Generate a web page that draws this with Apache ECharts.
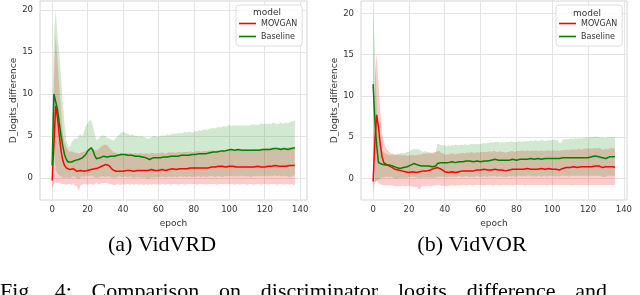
<!DOCTYPE html>
<html>
<head>
<meta charset="utf-8">
<script src="https://cdn.jsdelivr.net/npm/echarts@6/dist/echarts.min.js"></script>
<style>
html,body{margin:0;padding:0;background:#fff;}
#c{width:640px;height:295px;}
</style>
</head>
<body>
<div id="c"></div>
<script>
// ---------- labels ----------
const xTicks = [0, 20, 40, 60, 80, 100, 120, 140];
const yTicks = [0, 5, 10, 15, 20];
const seriesNames = ['MOVGAN', 'Baseline'];
const panelCaptions = ['(a) VidVRD', '(b) VidVOR'];
const figCaptionWords = ['Fig.', '4:', 'Comparison', 'on', 'discriminator', 'logits', 'difference', 'and'];

// ---------- data (VidVRD, epochs 0..137) ----------
const vrdMovMean = [-0.3,4.0,8.6,7.2,5.2,3.3,2.1,1.5,1.2,1.1,
 1.0,1.1,1.1,0.9,0.8,0.8,0.9,0.8,0.8,0.9,
 0.9,0.9,1.0,1.0,1.1,1.2,1.2,1.3,1.4,1.5,
 1.6,1.6,1.5,1.3,1.0,0.9,0.8,0.8,0.8,0.8,
 0.8,0.8,0.9,0.8,0.9,0.9,0.8,0.9,0.9,0.9,
 0.9,0.9,0.9,1.0,0.9,0.9,1.0,1.0,0.9,1.0,
 0.9,1.0,1.0,1.0,0.9,1.0,1.0,1.0,1.1,1.0,
 1.0,1.1,1.1,1.0,1.1,1.1,1.1,1.1,1.2,1.1,
 1.2,1.2,1.2,1.3,1.2,1.2,1.2,1.3,1.2,1.3,
 1.3,1.3,1.3,1.3,1.4,1.3,1.4,1.4,1.3,1.4,
 1.4,1.5,1.4,1.4,1.3,1.4,1.3,1.3,1.3,1.3,
 1.3,1.3,1.3,1.3,1.3,1.3,1.4,1.3,1.3,1.3,
 1.3,1.3,1.4,1.3,1.4,1.4,1.5,1.4,1.4,1.4,
 1.4,1.3,1.4,1.5,1.5,1.5,1.5,1.5];
const vrdMovHi = [1.0,12.0,17.0,14.0,11.0,8.0,5.3,4.2,3.7,3.3,
 3.1,3.2,3.1,3.0,3.0,2.9,3.0,3.1,3.1,3.2,
 3.3,3.3,3.4,3.4,3.3,3.3,3.4,3.6,3.8,3.9,
 4.0,3.9,3.7,3.4,3.2,3.1,3.0,2.9,2.9,3.0,
 2.9,2.9,3.0,2.9,3.0,2.9,2.9,3.0,2.9,2.9,
 3.0,2.9,2.9,3.0,2.9,2.9,3.0,3.0,2.9,3.0,
 2.9,3.0,3.0,3.0,2.9,3.0,3.1,3.0,3.1,3.0,
 3.0,3.1,3.1,3.0,3.1,3.1,3.1,3.1,3.2,3.1,
 3.1,3.2,3.2,3.2,3.1,3.2,3.2,3.2,3.2,3.3,
 3.2,3.3,3.2,3.3,3.3,3.2,3.3,3.3,3.3,3.3,
 3.3,3.4,3.3,3.3,3.3,3.4,3.3,3.3,3.4,3.4,
 3.4,3.4,3.4,3.4,3.5,3.4,3.5,3.4,3.5,3.5,
 3.5,3.5,3.5,3.5,3.6,3.5,3.6,3.5,3.6,3.6,
 3.6,3.5,3.6,3.6,3.7,3.6,3.7,3.7];
const vrdMovLo = [-1.2,-0.8,-0.5,-0.6,-0.6,-0.7,-0.7,-0.7,-0.8,-0.7,
 -0.7,-0.8,-0.7,-0.9,-1.0,-1.5,-0.9,-0.8,-0.7,-0.7,
 -0.8,-0.7,-0.7,-0.8,-0.7,-0.6,-0.7,-0.7,-0.6,-0.6,
 -0.6,-0.6,-0.7,-0.7,-0.8,-0.8,-0.8,-0.7,-0.8,-0.8,
 -0.7,-0.8,-0.7,-0.7,-0.8,-0.7,-0.8,-0.7,-0.7,-0.8,
 -0.7,-0.8,-0.8,-0.7,-0.8,-0.7,-0.8,-0.7,-0.7,-0.8,
 -0.7,-0.8,-0.7,-0.7,-0.8,-0.7,-0.7,-0.8,-0.7,-0.7,
 -0.7,-0.8,-0.7,-0.7,-0.7,-0.8,-0.7,-0.7,-0.7,-0.7,
 -0.7,-0.7,-0.8,-0.7,-0.7,-0.7,-0.7,-0.8,-0.7,-0.7,
 -0.7,-0.7,-0.7,-0.8,-0.7,-0.7,-0.7,-0.7,-0.7,-0.7,
 -0.7,-0.7,-0.7,-0.8,-0.7,-0.7,-0.8,-0.7,-0.7,-0.7,
 -0.8,-0.7,-0.7,-0.7,-0.8,-0.7,-0.7,-0.7,-0.8,-0.7,
 -0.7,-0.7,-0.8,-0.7,-0.7,-0.7,-0.7,-0.8,-0.7,-0.7,
 -0.7,-0.8,-0.7,-0.7,-0.8,-0.7,-0.8,-0.8];
const vrdBaseMean = [1.5,10.0,10.0,8.2,6.6,5.1,3.8,2.8,2.2,1.9,
 1.8,1.9,2.1,2.1,2.2,2.2,2.3,2.4,2.6,2.8,
 3.2,3.3,3.6,3.3,2.7,2.3,2.3,2.4,2.5,2.6,
 2.6,2.5,2.5,2.6,2.7,2.6,2.7,2.7,2.8,2.8,
 2.8,2.8,2.8,2.7,2.7,2.7,2.6,2.6,2.6,2.6,
 2.6,2.5,2.5,2.4,2.2,2.2,2.3,2.4,2.4,2.4,
 2.4,2.4,2.5,2.5,2.4,2.5,2.5,2.6,2.6,2.6,
 2.6,2.6,2.7,2.7,2.6,2.7,2.7,2.7,2.8,2.8,
 2.8,2.8,2.8,2.9,2.9,2.9,3.0,2.9,3.0,3.0,
 3.1,3.1,3.0,3.1,3.1,3.2,3.1,3.2,3.2,3.3,
 3.3,3.4,3.3,3.3,3.3,3.4,3.3,3.3,3.4,3.3,
 3.3,3.3,3.2,3.3,3.3,3.3,3.4,3.3,3.4,3.4,
 3.4,3.4,3.5,3.4,3.5,3.5,3.6,3.5,3.5,3.4,
 3.5,3.5,3.5,3.4,3.3,3.5,3.6,3.6];
const vrdBaseHi = [4.5,17.0,20.0,17.0,15.0,12.0,9.0,6.5,4.5,3.8,
 3.7,4.2,4.5,4.8,4.6,5.0,5.2,4.9,5.6,6.2,
 6.5,6.8,6.9,6.2,5.2,4.5,4.6,4.9,5.0,5.1,
 5.0,4.8,4.7,4.6,4.5,4.5,4.8,5.0,5.2,5.4,
 5.5,5.4,5.3,5.2,5.1,5.2,5.1,5.0,5.0,4.9,
 5.0,4.9,4.9,4.8,4.6,4.7,4.9,5.0,5.0,4.9,
 4.9,5.0,5.1,5.0,5.1,5.2,5.1,5.2,5.3,5.2,
 5.3,5.3,5.4,5.3,5.4,5.5,5.4,5.5,5.5,5.4,
 5.5,5.6,5.5,5.7,5.6,5.7,5.8,5.7,5.8,5.9,
 5.9,6.0,5.9,6.0,6.1,6.0,6.1,6.2,6.1,6.2,
 6.3,6.2,6.3,6.2,6.3,6.2,6.3,6.2,6.3,6.2,
 6.3,6.2,6.3,6.4,6.3,6.4,6.3,6.4,6.5,6.4,
 6.5,6.4,6.5,6.4,6.5,6.6,6.5,6.4,6.5,6.6,
 6.5,6.5,6.6,6.5,6.6,6.7,6.8,6.8];
const vrdBaseLo = [-0.5,3.0,1.0,0.5,0.3,0.2,0.0,0.0,0.1,0.0,
 0.0,0.1,0.2,0.1,0.0,-0.2,0.1,0.2,0.1,0.2,
 0.3,0.2,0.3,0.2,0.1,0.0,0.1,0.1,0.2,0.2,
 0.1,0.2,0.2,0.1,0.1,0.0,0.1,0.1,0.2,0.1,
 0.1,0.2,0.1,0.1,0.2,0.1,0.0,0.1,0.1,0.1,
 0.1,0.0,0.1,0.0,-0.1,0.0,0.1,0.1,0.1,0.1,
 0.1,0.1,0.2,0.1,0.1,0.1,0.2,0.1,0.1,0.2,
 0.1,0.1,0.2,0.2,0.1,0.2,0.1,0.2,0.2,0.1,
 0.2,0.1,0.2,0.2,0.1,0.2,0.2,0.1,0.2,0.2,
 0.2,0.2,0.1,0.2,0.2,0.2,0.1,0.2,0.2,0.2,
 0.3,0.2,0.2,0.3,0.2,0.2,0.2,0.3,0.2,0.2,
 0.2,0.2,0.1,0.2,0.2,0.2,0.3,0.2,0.2,0.2,
 0.3,0.2,0.2,0.3,0.2,0.3,0.3,0.2,0.3,0.2,
 0.2,0.3,0.2,0.2,0.1,0.2,0.3,0.3];

// ---------- data (VidVOR, epochs 0..135) ----------
const vorMovMean = [-0.4,4.5,7.7,6.2,4.2,2.6,1.9,1.7,1.6,1.5,
 1.4,1.2,1.1,1.1,1.0,0.9,0.9,0.8,0.8,0.7,
 0.7,0.7,0.8,0.7,0.7,0.8,0.8,0.8,0.9,0.9,
 0.9,0.9,1.0,1.1,1.2,1.2,1.3,1.3,1.1,0.9,
 0.8,0.7,0.7,0.8,0.8,0.8,0.7,0.8,0.8,0.8,
 0.9,0.8,0.9,0.9,0.9,1.0,0.9,0.9,1.0,0.9,
 1.0,1.0,1.1,1.0,1.0,1.1,1.0,1.1,1.1,1.0,
 1.0,1.1,1.0,1.0,0.9,1.0,1.0,1.1,1.1,1.0,
 1.1,1.1,1.1,1.2,1.1,1.1,1.2,1.1,1.1,1.2,
 1.1,1.2,1.1,1.1,1.2,1.1,1.1,1.2,1.2,1.1,
 1.1,1.2,1.1,1.1,1.0,1.1,1.2,1.2,1.3,1.2,
 1.3,1.3,1.4,1.3,1.3,1.4,1.4,1.3,1.4,1.4,
 1.4,1.5,1.4,1.4,1.5,1.4,1.5,1.4,1.3,1.3,
 1.4,1.3,1.4,1.5,1.4,1.3];
const vorMovHi = [0.5,12.0,15.2,11.5,8.3,5.5,4.5,3.8,3.4,3.2,
 3.0,3.0,2.9,2.9,2.8,2.9,2.8,2.8,2.8,2.7,
 2.8,2.8,2.9,2.8,2.8,2.9,2.9,2.9,3.0,3.0,
 3.0,3.0,3.1,3.1,3.2,3.2,3.3,3.3,3.1,3.0,
 2.9,2.9,2.9,3.0,3.0,3.0,2.9,3.0,3.0,3.0,
 3.1,3.0,3.1,3.1,3.1,3.2,3.1,3.1,3.2,3.1,
 3.2,3.2,3.2,3.2,3.2,3.3,3.2,3.3,3.3,3.2,
 3.2,3.3,3.2,3.2,3.1,3.2,3.2,3.3,3.3,3.2,
 3.3,3.3,3.3,3.4,3.3,3.3,3.4,3.3,3.3,3.4,
 3.3,3.4,3.3,3.3,3.4,3.3,3.3,3.4,3.4,3.3,
 3.4,3.4,3.3,3.4,3.3,3.4,3.4,3.4,3.5,3.4,
 3.5,3.5,3.5,3.5,3.5,3.6,3.5,3.5,3.6,3.6,
 3.6,3.6,3.6,3.6,3.7,3.6,3.7,3.6,3.5,3.5,
 3.6,3.5,3.6,3.7,3.6,3.6];
const vorMovLo = [-1.5,-0.5,-0.3,-0.6,-0.7,-0.8,-0.8,-0.9,-0.8,-0.9,
 -0.8,-0.9,-0.9,-1.0,-0.9,-1.0,-0.9,-0.9,-1.0,-0.9,
 -0.9,-1.0,-1.0,-1.1,-1.0,-1.2,-1.4,-1.0,-0.9,-1.0,
 -0.9,-0.9,-1.0,-0.9,-0.9,-0.8,-0.8,-0.8,-0.9,-0.9,
 -0.9,-1.0,-0.9,-0.9,-0.8,-0.9,-0.9,-0.8,-0.9,-0.8,
 -0.8,-0.8,-0.9,-0.8,-0.8,-0.8,-0.9,-0.8,-0.8,-0.8,
 -0.8,-0.8,-0.9,-0.8,-0.8,-0.8,-0.8,-0.9,-0.8,-0.8,
 -0.8,-0.9,-0.8,-0.8,-0.8,-0.8,-0.8,-0.8,-0.9,-0.8,
 -0.8,-0.8,-0.8,-0.8,-0.8,-0.9,-0.8,-0.8,-0.8,-0.8,
 -0.8,-0.8,-0.8,-0.8,-0.8,-0.8,-0.8,-0.9,-0.8,-0.8,
 -0.8,-0.8,-0.8,-0.8,-0.8,-0.8,-0.8,-0.8,-0.8,-0.8,
 -0.8,-0.9,-0.8,-0.8,-0.8,-0.8,-0.8,-0.8,-0.8,-0.8,
 -0.8,-0.8,-0.8,-0.8,-0.8,-0.8,-0.8,-0.8,-0.8,-0.8,
 -0.8,-0.8,-0.8,-0.8,-0.8,-0.8];
const vorBaseMean = [11.4,7.0,4.0,1.9,1.7,1.7,1.7,1.6,1.6,1.6,
 1.5,1.5,1.3,1.3,1.2,1.2,1.2,1.3,1.3,1.4,
 1.5,1.6,1.7,1.8,1.7,1.6,1.5,1.5,1.5,1.5,
 1.5,1.5,1.5,1.4,1.4,1.5,1.8,1.8,1.9,1.9,
 1.9,1.9,1.9,1.9,2.0,2.0,1.9,2.0,2.0,2.0,
 2.0,2.0,2.1,2.0,2.1,2.1,2.0,2.0,2.1,2.1,
 2.0,2.1,2.1,2.2,2.1,2.2,2.2,2.2,2.3,2.2,
 2.2,2.2,2.2,2.1,2.2,2.2,2.2,2.2,2.3,2.2,
 2.2,2.3,2.3,2.2,2.3,2.3,2.3,2.3,2.4,2.3,
 2.3,2.3,2.4,2.4,2.3,2.4,2.4,2.3,2.4,2.4,
 2.4,2.5,2.4,2.4,2.4,2.4,2.5,2.4,2.5,2.5,
 2.5,2.4,2.5,2.5,2.5,2.5,2.5,2.6,2.5,2.6,
 2.5,2.6,2.6,2.6,2.7,2.7,2.6,2.6,2.5,2.4,
 2.4,2.5,2.6,2.7,2.6,2.6];
const vorBaseHi = [20.4,15.5,9.5,5.5,4.0,3.4,3.2,3.0,2.9,2.8,
 2.8,2.9,2.8,2.9,3.0,3.0,3.1,3.0,3.1,3.2,
 3.2,3.4,3.5,3.6,3.5,3.6,3.4,3.3,3.2,3.3,
 3.2,3.2,3.1,3.0,3.0,3.2,4.2,4.1,4.0,4.0,
 4.0,3.9,4.0,3.9,4.0,4.0,4.1,4.0,4.0,4.1,
 4.0,4.1,4.1,4.0,4.1,4.2,4.1,4.2,4.1,4.2,
 4.2,4.2,4.3,4.2,4.3,4.3,4.4,4.3,4.4,4.4,
 4.4,4.3,4.4,4.3,4.4,4.4,4.4,4.5,4.4,4.4,
 4.4,4.5,4.5,4.4,4.5,4.5,4.5,4.5,4.6,4.5,
 4.6,4.6,4.5,4.6,4.6,4.6,4.5,4.6,4.6,4.6,
 4.6,4.7,4.6,4.6,4.3,4.3,4.7,4.7,4.8,4.7,
 4.8,4.8,4.8,4.9,4.8,4.9,4.8,4.9,4.9,5.0,
 4.9,5.0,5.0,5.0,5.1,5.0,5.0,4.9,5.0,4.9,
 4.9,5.0,4.9,5.0,5.0,5.0];
const vorBaseLo = [3.0,-0.5,-0.3,-0.2,0.0,0.1,0.1,0.2,0.2,0.1,
 0.2,0.1,0.0,-0.1,0.0,0.1,0.0,0.1,0.0,0.1,
 0.1,0.2,0.2,0.2,0.1,0.1,0.0,0.1,0.1,0.1,
 0.1,0.1,0.1,0.0,0.1,0.1,0.2,0.2,0.2,0.2,
 0.2,0.1,0.2,0.2,0.2,0.2,0.2,0.2,0.3,0.2,
 0.2,0.2,0.3,0.2,0.2,0.2,0.2,0.2,0.3,0.2,
 0.2,0.2,0.3,0.2,0.2,0.3,0.2,0.3,0.3,0.2,
 0.2,0.3,0.2,0.2,0.2,0.2,0.3,0.2,0.3,0.2,
 0.2,0.3,0.3,0.2,0.3,0.2,0.3,0.3,0.3,0.2,
 0.3,0.2,0.3,0.3,0.2,0.3,0.3,0.2,0.3,0.3,
 0.3,0.3,0.2,0.3,0.2,0.3,0.3,0.3,0.3,0.2,
 0.3,0.3,0.3,0.3,0.3,0.3,0.3,0.3,0.3,0.3,
 0.3,0.3,0.3,0.3,0.3,0.3,0.3,0.3,0.2,0.2,
 0.2,0.3,0.3,0.3,0.3,0.3];

// ---------- chart ----------
const RED = '#ff0000', GREEN = '#008000';
const FONT = 'DejaVu Sans';
const chart = echarts.init(document.getElementById('c'), null, {renderer: 'canvas'});

function pts(vals) { return vals.map((v, i) => [i, v]); }
function band(lo, hi, fill, idx) {
  return {type: 'custom', xAxisIndex: idx, yAxisIndex: idx, data: [[0, 0]], silent: true, z: 1,
    renderItem: function (params, api) {
      const top = hi.map((v, i) => api.coord([i, v]));
      const bot = lo.map((v, i) => api.coord([i, v])).reverse();
      return {type: 'polygon', shape: {points: top.concat(bot)}, style: {fill: fill}};
    }};
}
function meanLine(name, vals, color, idx) {
  return {type: 'line', name: name, xAxisIndex: idx, yAxisIndex: idx, data: pts(vals),
    symbol: 'none', lineStyle: {color: color, width: 1.5}, itemStyle: {color: color}, z: 5};
}
function xAx(idx, max) {
  return {type: 'value', gridIndex: idx, min: -0.05 * max, max: 1.05 * max,
    axisLine: {show: false}, axisTick: {show: false, customValues: xTicks},
    axisLabel: {customValues: xTicks, fontSize: 8.5, color: '#333', fontFamily: FONT, margin: 5},
    splitLine: {show: true, lineStyle: {color: '#e4e4e4', width: 1}},
    name: 'epoch', nameLocation: 'middle', nameGap: 16,
    nameTextStyle: {fontSize: 9, color: '#333', fontFamily: FONT}};
}
function yAx(idx, min, max) {
  return {type: 'value', gridIndex: idx, min: min, max: max,
    axisLine: {show: false}, axisTick: {show: false, customValues: yTicks},
    axisLabel: {customValues: yTicks, fontSize: 8.5, color: '#333', fontFamily: FONT, margin: 7},
    splitLine: {show: true, lineStyle: {color: '#e4e4e4', width: 1}},
    name: 'D_logits_difference', nameLocation: 'middle', nameGap: 20, nameRotate: 90,
    nameTextStyle: {fontSize: 9, color: '#333', fontFamily: FONT}};
}
function legendAt(left) {
  return {data: seriesNames, orient: 'vertical', left: left, top: 5, icon: 'rect',
    itemWidth: 17, itemHeight: 1.6, itemGap: 2, padding: [13, 5, 4, 3],
    backgroundColor: 'rgba(255,255,255,0.85)', borderColor: '#dcdcdc', borderWidth: 1, borderRadius: 3,
    textStyle: {fontSize: 8, color: '#333', fontFamily: FONT, lineHeight: 11}, selectedMode: false};
}

// caption words laid out justified across the measured line width
const capFont = '22px "Liberation Serif"';
const mctx = document.createElement('canvas').getContext('2d');
mctx.font = capFont;
const capW = figCaptionWords.map(w => mctx.measureText(w).width);
const capLineWidth = 607;
const capGap = (capLineWidth - capW.reduce((a, b) => a + b, 0)) / (figCaptionWords.length - 1);
const capGraphics = [];
let cx = 0;
figCaptionWords.forEach((w, i) => {
  capGraphics.push({type: 'text', z: 100, style: {text: w, x: cx, y: 292, align: 'left',
    verticalAlign: 'middle', font: capFont, fill: '#000'}});
  cx += capW[i] + capGap;
});

const option = {
  animation: false,
  backgroundColor: '#fff',
  grid: [
    {left: 40, top: 1, width: 267, height: 199, show: true, borderColor: '#d4d4d4', borderWidth: 1},
    {left: 361, top: 1, width: 266, height: 199, show: true, borderColor: '#d4d4d4', borderWidth: 1}
  ],
  xAxis: [xAx(0, vrdMovMean.length - 1), xAx(1, vorMovMean.length - 1)],
  yAxis: [yAx(0, -22 / 8.4, 177 / 8.4), yAx(1, -21.7 / 8.25, 177.3 / 8.25)],
  legend: [legendAt(236), legendAt(556)],
  series: [
    band(vrdMovLo, vrdMovHi, 'rgba(255,0,0,0.2)', 0),
    band(vrdBaseLo, vrdBaseHi, 'rgba(0,128,0,0.18)', 0),
    meanLine('MOVGAN', vrdMovMean, RED, 0),
    meanLine('Baseline', vrdBaseMean, GREEN, 0),
    band(vorMovLo, vorMovHi, 'rgba(255,0,0,0.2)', 1),
    band(vorBaseLo, vorBaseHi, 'rgba(0,128,0,0.18)', 1),
    meanLine('MOVGAN', vorMovMean, RED, 1),
    meanLine('Baseline', vorBaseMean, GREEN, 1)
  ],
  graphic: [
    {type: 'text', z: 100, style: {text: 'model', x: 267, y: 13, align: 'center', verticalAlign: 'middle',
      font: '9px "DejaVu Sans"', fill: '#333'}},
    {type: 'text', z: 100, style: {text: 'model', x: 587, y: 14, align: 'center', verticalAlign: 'middle',
      font: '9px "DejaVu Sans"', fill: '#333'}},
    {type: 'text', z: 100, style: {text: panelCaptions[0], x: 162, y: 245, align: 'center', verticalAlign: 'middle',
      font: '22px "Liberation Serif"', fill: '#000'}},
    {type: 'text', z: 100, style: {text: panelCaptions[1], x: 472, y: 245, align: 'center', verticalAlign: 'middle',
      font: '22px "Liberation Serif"', fill: '#000'}}
  ].concat(capGraphics)
};
chart.setOption(option);
</script>
</body>
</html>
